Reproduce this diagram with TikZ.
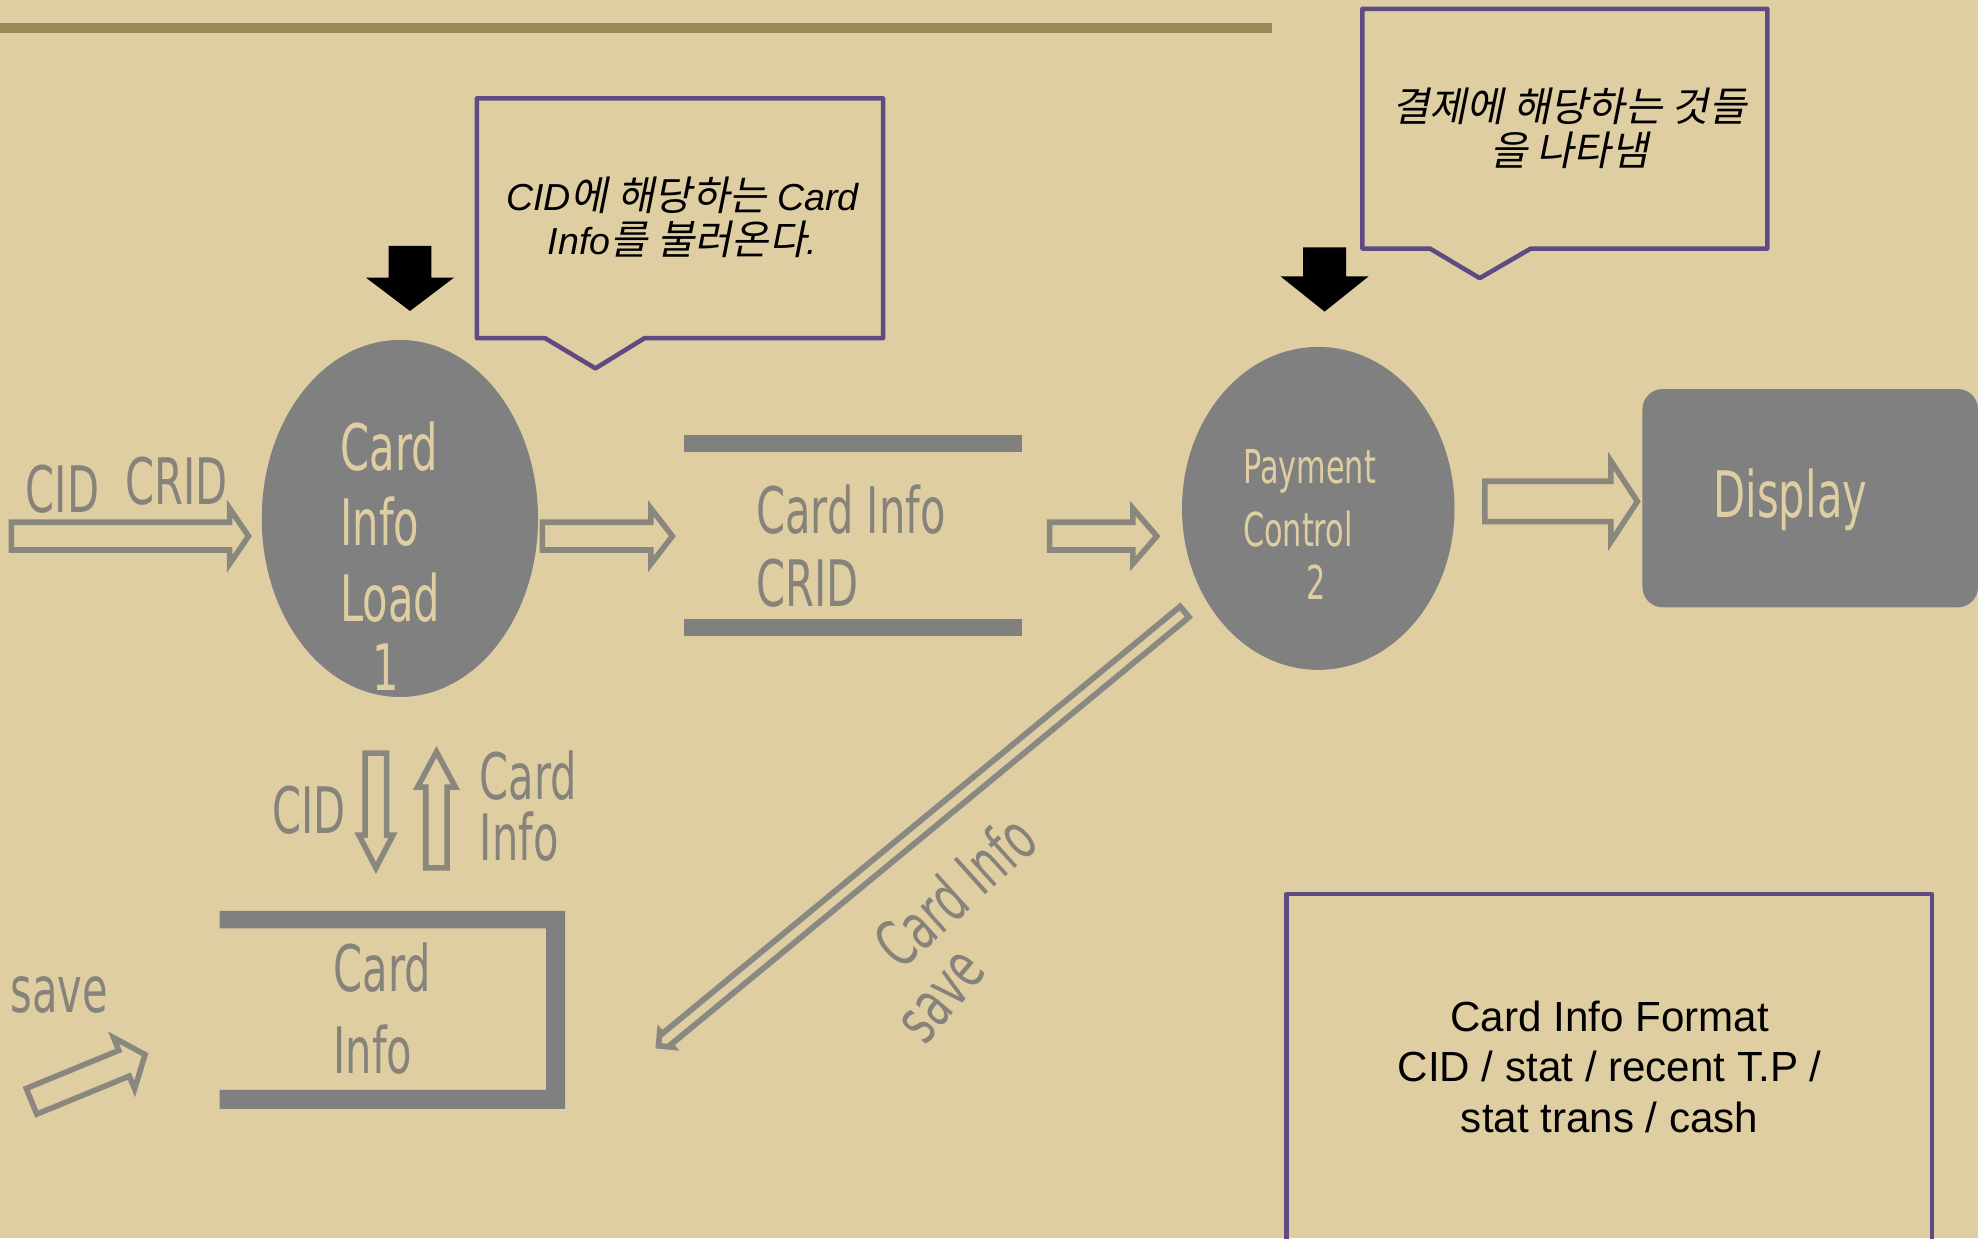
\documentclass[tikz,border=0pt]{standalone}
\usepackage{fontspec}
\setmainfont{Liberation Sans}
\newfontfamily\krfont[FakeSlant=0.2, Scale=1.08]{Noto Sans CJK KR}
\newfontfamily\condfont[FakeStretch=0.65]{DejaVu Sans}
\usetikzlibrary{shapes.geometric,calc}
\definecolor{bg}{HTML}{DFCEA1}
\definecolor{topline}{HTML}{968B55}
\definecolor{shapegray}{HTML}{808080}
\definecolor{lblgray}{HTML}{86837B}
\definecolor{purp}{HTML}{5F4B82}
\definecolor{arrgray}{HTML}{8A877F}
\tikzset{
  lbl/.style={font=\condfont\fontsize{25.4}{30}\selectfont, text=lblgray, inner sep=0pt, anchor=base west},
  inlbl/.style={lbl, text=bg},
  smalllbl/.style={inlbl, font=\condfont\fontsize{18.5}{22}\selectfont},
  proc/.style={ellipse, fill=shapegray, inner sep=0pt, draw=none},
  bar/.style={fill=shapegray},
  callout/.style={draw=purp, line width=1.8pt, line join=round},
  calltext/.style={font=\fontsize{14.9}{17.8}\selectfont\itshape, text=black, inner sep=0pt, anchor=base},
  fmttext/.style={font=\fontsize{16.7}{20}\selectfont, text=black, inner sep=0pt, anchor=base},
  hollow/.style={draw=arrgray, line width=2.2pt, fill=bg, line join=miter},
  thinhollow/.style={hollow, draw=shapegray!90!bg, line width=2.3pt},
  bigdown/.style={fill=black},
  barrow/.style n args={3}{to path={
      ($(\tikztostart)!#1*0.5pt!-90:(\tikztotarget)$)
   -- ($(\tikztotarget)!{veclen(#3,#1)*0.5pt}!{atan(#1/#3)}:(\tikztostart)$)
   -- ($(\tikztotarget)!{veclen(#3,#2)*0.5pt}!{atan(#2/#3)}:(\tikztostart)$)
   -- (\tikztotarget)
   -- ($(\tikztotarget)!{veclen(#3,#2)*0.5pt}!{-atan(#2/#3)}:(\tikztostart)$)
   -- ($(\tikztotarget)!{veclen(#3,#1)*0.5pt}!{-atan(#1/#3)}:(\tikztostart)$)
   -- ($(\tikztostart)!#1*0.5pt!90:(\tikztotarget)$)
   -- cycle}}
}
\begin{document}
\begin{tikzpicture}[x=0.5pt,y=-0.5pt]
\useasboundingbox (0,0) rectangle (1568,981.4);
\fill[bg] (0,0) rectangle (1568,981.4);
% top rule
\draw[topline, line width=3.8pt] (0,22) -- (1008,22);

% callouts
\draw[callout] (378,78) -- (700,78) -- (700,268) -- (511,268) -- (472,292) -- (432,268) -- (378,268) -- cycle;
\node[calltext] (c1a) at (541,166.5) {CID{\upshape\krfont 에 해당하는} Card};
\node[calltext] (c1b) at (541,202) {Info{\upshape\krfont 를 불러온다}.};
\draw[callout] (1080,7) -- (1401,7) -- (1401,197) -- (1213.5,197) -- (1173,220.5) -- (1133.5,197) -- (1080,197) -- cycle;
\node[calltext] (c2a) at (1244,96.4) {\upshape\krfont 결제에 해당하는 것들};
\node[calltext] (c2b) at (1244,131) {\upshape\krfont 을 나타냄};

% big black arrows
\fill[bigdown] (308,195) -- (342,195) -- (342,220) -- (360,220) -- (325,246.5) -- (290,220) -- (308,220) -- cycle;
\fill[bigdown] (1033,196) -- (1067,196) -- (1067,219) -- (1085,219) -- (1050,247) -- (1015,219) -- (1033,219) -- cycle;

% processes
\node[proc, minimum width=109.5pt, minimum height=141.5pt] (p1) at (317,411) {};
\node[inlbl] (p1a) at (269.5,372.6) {Card};
\node[inlbl] (p1b) at (269.5,432.8) {Info};
\node[inlbl] (p1c) at (269.5,493) {Load};
\node[inlbl] (p1d) at (295,547) {1};

\node[proc, minimum width=108pt, minimum height=128pt] (p2) at (1045,403) {};
\node[smalllbl] (p2a) at (985,383) {Payment};
\node[smalllbl] (p2b) at (985,433.6) {Control};
\node[smalllbl] (p2c) at (1035,475.6) {2};

% display
\node[fill=shapegray, rounded corners=8pt, minimum width=133pt, minimum height=86.5pt, inner sep=0pt, anchor=north west] (disp) at (1301.6,308) {};
\node[inlbl] (dispt) at (1358,410.6) {Display};

% data store 1
\fill[bar] (542,345) rectangle (810,358);
\fill[bar] (542,491) rectangle (810,504);
\node[lbl] (s1a) at (599,422.6) {Card Info};
\node[lbl] (s1b) at (599,481) {CRID};

% data store 2
\fill[bar] (174,722) rectangle (448,736) (433,722) rectangle (448,879) (174,864) rectangle (448,879);
\node[lbl] (s2a) at (264,785.6) {Card};
\node[lbl] (s2b) at (264,850.6) {Info};

% format box
\draw[callout] (1020,708.7) rectangle (1531.6,1010);
\node[fmttext] (f1) at (1276,818) {Card Info Format};
\node[fmttext] (f2) at (1276,857.6) {CID / stat / recent T.P /};
\node[fmttext] (f3) at (1276,898) {stat trans / cash};

% hollow arrows
\coordinate (a1s) at (9,425);    \coordinate (a1e) at (197,425);
\coordinate (a2s) at (430,425);  \coordinate (a2e) at (533,425);
\coordinate (a3s) at (832,425);  \coordinate (a3e) at (917,425);
\coordinate (a4s) at (1177,397.5); \coordinate (a4e) at (1298,397.5);
\coordinate (a5s) at (298,597);  \coordinate (a5e) at (298,688);
\coordinate (a6s) at (346,688);  \coordinate (a6e) at (346,596);
\coordinate (a7s) at (939,485);  \coordinate (a7e) at (522,829);
\coordinate (a8s) at (25,873);   \coordinate (a8e) at (115,836);
\draw[hollow] (a1s) to[barrow={11}{22}{15}] (a1e);
\draw[hollow] (a2s) to[barrow={11}{22}{17}] (a2e);
\draw[hollow] (a3s) to[barrow={11}{22}{19}] (a3e);
\draw[hollow] (a4s) to[barrow={16}{32}{21}] (a4e);
\draw[hollow] (a5s) to[barrow={8.5}{13.5}{26}] (a5e);
\draw[hollow] (a6s) to[barrow={8.5}{15}{28}] (a6e);
\draw[thinhollow] (a7s) to[barrow={5.5}{8}{8}] (a7e);
\draw[hollow] (a8s) to[barrow={11}{22}{18}] (a8e);

% arrow labels
\node[lbl] (l1) at (20,405.9) {CID};
\node[lbl] (l2) at (99,400.3) {CRID};
\node[lbl] (l3) at (215.6,661) {CID};
\node[lbl] (l4) at (380,633.6) {Card};
\node[lbl] (l5) at (380,682.5) {Info};
\node[lbl] (l6) at (8,803) {save};
\node[lbl, anchor=center, rotate=42] (l7) at (757,706) {Card Info};
\node[lbl, anchor=center, rotate=50] (l8) at (748,791) {save};
\end{tikzpicture}
\end{document}
